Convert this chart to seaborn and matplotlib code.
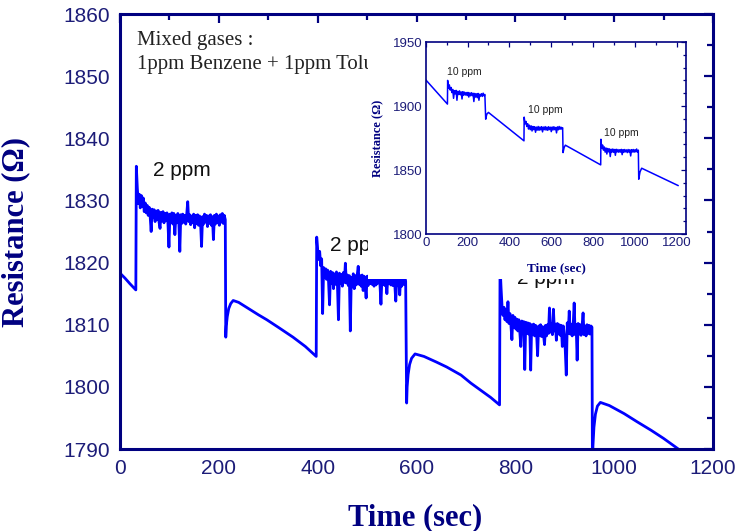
import numpy as np
import pandas as pd
import matplotlib
matplotlib.use("Agg")
import matplotlib.pyplot as plt
from matplotlib.patches import Rectangle
from matplotlib.ticker import MultipleLocator
import seaborn as sns

# ---------------- main trace: mixed gases, three 2 ppm exposures ----------------
main_drift_1_t = [0, 10, 20, 32]
main_drift_1_r = [1818.3, 1817.5, 1816.6, 1815.6]

main_pulse_1_span = (33, 213)
main_pulse_1_r = [
    1835.5, 1832.0, 1829.5, 1831.0, 1828.8, 1830.8, 1829.0, 1830.4, 1828.2, 1829.6,
    1828.0, 1829.2, 1827.6, 1828.9, 1827.4, 1825.0, 1828.6, 1827.2, 1828.5, 1826.6,
    1828.3, 1826.9, 1828.4, 1826.5, 1825.5, 1828.1, 1826.7, 1828.2, 1826.4, 1827.9,
    1826.8, 1828.0, 1826.3, 1822.5, 1827.8, 1826.5, 1828.0, 1826.2, 1827.9, 1824.5,
    1827.6, 1826.4, 1827.9, 1826.6, 1821.8, 1827.7, 1826.3, 1827.8, 1826.5, 1827.6,
    1826.2, 1827.8, 1829.8, 1826.6, 1827.7, 1826.1, 1827.5, 1826.4, 1827.8, 1825.6,
    1827.6, 1826.3, 1827.7, 1826.0, 1827.5, 1826.4, 1822.6, 1827.4, 1826.2, 1827.8,
    1826.5, 1827.6, 1825.8, 1827.5, 1826.3, 1827.7, 1826.0, 1827.4, 1823.7, 1827.6,
    1826.2, 1827.8, 1826.4, 1827.5, 1826.0, 1827.7, 1826.5, 1827.9, 1826.3, 1827.6, 1826.9,
]

main_drift_2_t = [214, 215, 217, 220, 224, 229, 240, 260, 280, 297, 320, 350, 375, 397]
main_drift_2_r = [1808.0, 1809.8, 1811.3, 1812.6, 1813.4, 1813.9, 1813.6, 1812.6, 1811.6,
                  1810.8, 1809.6, 1808.0, 1806.5, 1804.9]

main_pulse_2_span = (398, 578)
main_pulse_2_r = [
    1824.1, 1822.0, 1820.5, 1821.8, 1819.5, 1820.6, 1811.8, 1819.2, 1817.6, 1819.0,
    1817.3, 1818.8, 1816.9, 1813.2, 1818.6, 1816.7, 1818.4, 1815.8, 1818.2, 1816.5,
    1818.5, 1816.4, 1810.8, 1818.3, 1816.6, 1818.1, 1816.2, 1818.4, 1816.8, 1819.9,
    1816.7, 1818.0, 1816.3, 1817.9, 1809.0, 1817.6, 1816.1, 1818.2, 1815.8, 1817.9,
    1816.4, 1818.0, 1819.4, 1816.5, 1817.9, 1816.2, 1818.0, 1815.5, 1817.8, 1816.4,
    1814.3, 1817.8, 1816.3, 1818.0, 1816.6, 1817.9, 1816.5, 1817.8, 1816.2, 1817.9,
    1816.4, 1817.8, 1816.7, 1817.9, 1816.5, 1813.3, 1817.6, 1816.5, 1817.7, 1816.3,
    1817.8, 1815.0, 1817.8, 1816.6, 1817.7, 1816.4, 1817.8, 1816.3, 1817.6, 1816.5,
    1813.8, 1817.5, 1816.4, 1817.7, 1814.8, 1817.7, 1816.2, 1817.8, 1816.5, 1817.8, 1817.0,
]

main_drift_3_t = [580, 581, 583, 586, 590, 597, 615, 640, 661, 690, 710, 729, 750, 768]
main_drift_3_r = [1797.4, 1800.0, 1802.0, 1803.6, 1804.6, 1805.3, 1804.9, 1804.0, 1803.2,
                  1801.9, 1800.6, 1799.5, 1798.3, 1797.1]

main_pulse_3_span = (769, 955)
main_pulse_3_r = [
    1819.5, 1816.0, 1813.0, 1811.5, 1812.8, 1810.8, 1812.4, 1810.5, 1813.7, 1810.2,
    1811.8, 1809.9, 1807.6, 1811.5, 1809.6, 1811.2, 1809.3, 1810.9, 1809.0, 1810.8,
    1808.8, 1806.5, 1810.6, 1808.9, 1810.5, 1802.8, 1810.4, 1808.6, 1810.3, 1808.5,
    1810.2, 1802.7, 1810.0, 1808.4, 1810.1, 1808.2, 1809.9, 1808.5, 1805.0, 1809.8,
    1808.3, 1810.0, 1808.1, 1809.7, 1808.4, 1806.8, 1809.9, 1808.2, 1810.0, 1808.6,
    1812.7, 1808.8, 1810.2, 1808.4, 1812.5, 1809.0, 1810.1, 1807.5, 1810.2, 1808.5,
    1810.0, 1808.3, 1809.9, 1806.5, 1809.8, 1808.4, 1805.9, 1801.9, 1810.3, 1808.6,
    1812.2, 1808.5, 1810.1, 1808.2, 1809.9, 1813.5, 1808.4, 1810.0, 1804.3, 1810.2,
    1808.5, 1810.0, 1808.3, 1809.8, 1811.9, 1808.4, 1809.8, 1808.2, 1810.0, 1808.6,
    1809.9, 1808.5, 1809.8, 1809.6,
]

main_drift_4_t = [956, 957, 959, 962, 966, 972, 990, 1020, 1046, 1075, 1100, 1135]
main_drift_4_r = [1786.0, 1790.5, 1793.5, 1795.6, 1796.9, 1797.5, 1797.0, 1795.7, 1794.4,
                  1793.0, 1791.7, 1789.7]

main_labels = ["2 ppm", "2 ppm", "2 ppm"]
main_label_xy = [(67, 1834.0), (425, 1821.9), (803, 1816.6)]
legend_lines = ["Mixed gases :", "1ppm Benzene + 1ppm Toluene"]

# ---------------- inset trace: three 10 ppm exposures ----------------
inset_drift_1_t = [0, 104]
inset_drift_1_r = [1920.5, 1901.5]

inset_pulse_1_span = (105, 283)
inset_pulse_1_r = [
    1920.0, 1914.0, 1916.5, 1912.5, 1914.5, 1910.5, 1913.0, 1906.0, 1912.0, 1909.5,
    1912.2, 1904.5, 1911.5, 1909.0, 1911.8, 1908.8, 1911.0, 1905.5, 1911.2, 1908.5,
    1910.8, 1908.6, 1910.5, 1908.2, 1910.6, 1907.0, 1910.2, 1908.0, 1910.4, 1908.1,
    1910.0, 1903.5, 1909.8, 1907.0, 1909.5, 1906.5, 1909.8, 1904.5, 1909.2, 1907.8,
    1909.6, 1907.5, 1910.0, 1908.0, 1909.0,
]

inset_drift_2_t = [287, 292, 300, 470]
inset_drift_2_r = [1889.7, 1893.5, 1895.0, 1872.8]

inset_pulse_2_span = (471, 655)
inset_pulse_2_r = [
    1891.3, 1886.0, 1888.0, 1884.0, 1886.2, 1882.0, 1885.0, 1881.5, 1884.5, 1880.5,
    1884.0, 1881.5, 1883.8, 1879.5, 1883.5, 1881.2, 1884.0, 1881.0, 1883.6, 1881.4,
    1883.8, 1879.8, 1883.5, 1881.5, 1883.9, 1881.2, 1883.5, 1881.0, 1883.8, 1881.6,
    1883.4, 1880.0, 1883.6, 1881.3, 1883.8, 1881.5, 1883.2, 1879.0, 1883.7, 1881.4,
    1884.0, 1881.8, 1883.5, 1882.0, 1883.0,
]

inset_drift_3_t = [657, 662, 668, 837]
inset_drift_3_r = [1863.6, 1867.5, 1869.4, 1854.0]

inset_pulse_3_span = (838, 1017)
inset_pulse_3_r = [
    1874.0, 1867.0, 1869.5, 1865.5, 1868.0, 1864.0, 1867.2, 1862.5, 1866.8, 1864.2,
    1866.5, 1860.5, 1866.2, 1864.0, 1866.4, 1863.8, 1866.0, 1861.5, 1866.2, 1864.1,
    1866.0, 1863.9, 1865.8, 1864.0, 1866.1, 1862.0, 1865.9, 1863.8, 1866.0, 1864.2,
    1865.7, 1863.6, 1866.0, 1864.0, 1865.8, 1861.0, 1865.9, 1864.1, 1866.0, 1863.9,
    1865.8, 1864.2, 1866.4, 1864.0, 1865.5,
]

inset_drift_4_t = [1019, 1025, 1033, 1208]
inset_drift_4_r = [1842.8, 1848.5, 1851.4, 1837.8]

inset_labels = ["10 ppm", "10 ppm", "10 ppm"]
inset_label_xy = [(103, 1926.5), (488, 1896.5), (852, 1879.3)]


def assemble(drifts, pulses):
    """Join drift segments (explicit times) and exposure readings (evenly logged)."""
    ts, rs = [], []
    for i, (dt, dr) in enumerate(drifts):
        ts.extend(dt)
        rs.extend(dr)
        if i < len(pulses):
            (t0, t1), pr = pulses[i]
            ts.extend(np.linspace(t0, t1, len(pr)))
            rs.extend(pr)
    return pd.DataFrame({"time": ts, "resistance": rs})


main_df = assemble(
    [(main_drift_1_t, main_drift_1_r), (main_drift_2_t, main_drift_2_r),
     (main_drift_3_t, main_drift_3_r), (main_drift_4_t, main_drift_4_r)],
    [(main_pulse_1_span, main_pulse_1_r), (main_pulse_2_span, main_pulse_2_r),
     (main_pulse_3_span, main_pulse_3_r)],
)
inset_df = assemble(
    [(inset_drift_1_t, inset_drift_1_r), (inset_drift_2_t, inset_drift_2_r),
     (inset_drift_3_t, inset_drift_3_r), (inset_drift_4_t, inset_drift_4_r)],
    [(inset_pulse_1_span, inset_pulse_1_r), (inset_pulse_2_span, inset_pulse_2_r),
     (inset_pulse_3_span, inset_pulse_3_r)],
)

sns.set_style("white")
plt.rcParams["font.family"] = ["Liberation Sans", "DejaVu Sans"]

NAVY = "#000080"
TICK_NAVY = "#1c1c78"
TRACE = "#0000ff"
SERIF = ["Liberation Serif", "DejaVu Serif"]

fig = plt.figure(figsize=(7.45, 5.31), dpi=100)
fig.patch.set_facecolor("white")

# ---- main axes ----
ax = fig.add_axes([0.1611, 0.1544, 0.7960, 0.8192])
sns.lineplot(data=main_df, x="time", y="resistance", sort=False, estimator=None,
             color=TRACE, linewidth=2.0, ax=ax)
ax.set_xlim(0, 1200)
ax.set_ylim(1790, 1860)
ax.xaxis.set_major_locator(MultipleLocator(200))
ax.xaxis.set_minor_locator(MultipleLocator(100))
ax.yaxis.set_major_locator(MultipleLocator(10))
ax.yaxis.set_minor_locator(MultipleLocator(5))
for s in ax.spines.values():
    s.set_visible(True)
    s.set_color(NAVY)
    s.set_linewidth(2.2)
ax.tick_params(which="both", direction="in", top=True, right=True,
               color=NAVY, width=1.6)
ax.tick_params(which="major", length=6.5, labelsize=15, labelcolor=TICK_NAVY, pad=7)
ax.tick_params(which="minor", length=4)
ax.set_xlabel("Time (sec)", family=SERIF, fontweight="bold", fontsize=22, color=NAVY)
ax.set_ylabel("Resistance (Ω)", family=SERIF, fontweight="bold", fontsize=22, color=NAVY)
ax.xaxis.set_label_coords(0.497, -0.124)
ax.yaxis.set_label_coords(-0.152, 0.5)

for txt, (x, y) in zip(main_labels, main_label_xy):
    ax.text(x, y, txt, fontsize=15, color="#111111", ha="left", va="baseline")
ax.text(34, 1855.8, legend_lines[0], family=SERIF, fontsize=15, color="#222222",
        ha="left", va="center")
ax.text(34, 1851.8, legend_lines[1], family=SERIF, fontsize=15, color="#222222",
        ha="left", va="center")

# white backing for the inset panel
fig.patches.append(Rectangle((0.4940, 0.4746), 0.4486, 0.4839, transform=fig.transFigure,
                             facecolor="white", edgecolor="none", zorder=2))

# ---- inset axes ----
ins = fig.add_axes([0.5714, 0.5593, 0.3494, 0.3616], zorder=3)
ins.set_facecolor("white")
sns.lineplot(data=inset_df, x="time", y="resistance", sort=False, estimator=None,
             color=TRACE, linewidth=1.1, ax=ins)
ins.set_xlim(0, 1245)
ins.set_ylim(1800, 1950)
ins.xaxis.set_major_locator(MultipleLocator(200))
ins.xaxis.set_minor_locator(MultipleLocator(100))
ins.yaxis.set_major_locator(MultipleLocator(50))
ins.yaxis.set_minor_locator(MultipleLocator(10))
for s in ins.spines.values():
    s.set_visible(True)
    s.set_color(NAVY)
    s.set_linewidth(1.2)
ins.tick_params(which="both", direction="in", top=True, right=True, color=NAVY, width=0.9)
ins.tick_params(which="major", length=3.5, labelsize=9.5, labelcolor=TICK_NAVY, pad=2.5)
ins.tick_params(which="minor", length=2)
ins.set_xlabel("Time (sec)", family=SERIF, fontweight="bold", fontsize=9.5, color=NAVY)
ins.set_ylabel("Resistance (Ω)", family=SERIF, fontweight="bold", fontsize=9, color=NAVY)
ins.xaxis.set_label_coords(0.503, -0.146)
ins.yaxis.set_label_coords(-0.164, 0.5)
for txt, (x, y) in zip(inset_labels, inset_label_xy):
    ins.text(x, y, txt, fontsize=7.5, color="#222222", ha="left", va="center")

fig.savefig("out.png", dpi=100)
